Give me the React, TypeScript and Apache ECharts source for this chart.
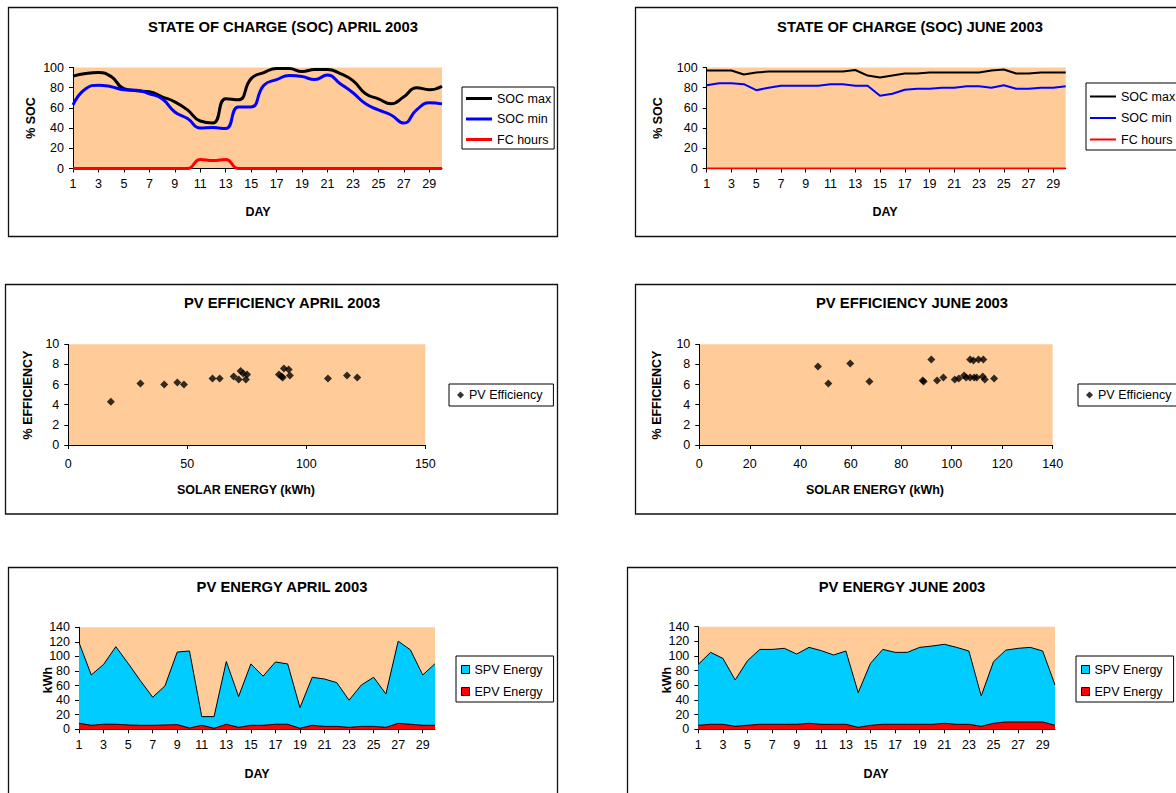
import { useEffect, useRef } from "react";
import * as echarts from "echarts";

const FONT = "'Liberation Sans', Arial, Helvetica, sans-serif";
const PLOT_BG = "#FFCC99";
const AXIS_COLOR = "#000";

// Day of month categories
const days = [
  "1", "2", "3", "4", "5", "6", "7", "8", "9", "10",
  "11", "12", "13", "14", "15", "16", "17", "18", "19", "20",
  "21", "22", "23", "24", "25", "26", "27", "28", "29", "30",
];

// State of charge, April 2003 (%)
const socMaxApril = [91.5, 94, 95, 91, 79, 77, 76, 71, 66, 58, 47, 45, 69, 68, 89, 95, 99, 99, 96, 98, 98, 94, 87, 74, 69, 64, 71, 80, 78, 81.5];
const socMinApril = [63, 79, 82.5, 81, 78, 77.5, 74, 69, 56, 49.5, 40, 40.5, 39.5, 61, 61, 82.5, 88, 92, 91, 88, 92.5, 84, 75, 64, 58, 53, 45, 58, 65, 64];
const fcHoursApril = [0, 0, 0, 0, 0, 0, 0, 0, 0, 0, 9, 8, 9, 0, 0, 0, 0, 0, 0, 0, 0, 0, 0, 0, 0, 0, 0, 0, 0, 0];

// State of charge, June 2003 (%)
const socMaxJune = [97, 97, 97, 93, 95, 96, 96, 96, 96, 96, 96, 96, 97.5, 92, 90, 92, 94, 94, 95, 95, 95, 95, 95, 97, 98, 94, 94, 95, 95, 95];
const socMinJune = [82.5, 84.5, 84.5, 83.5, 77.5, 80, 82, 82, 82, 82, 83.5, 83.5, 82, 82, 72, 74, 78, 79, 79, 80, 80, 81.5, 81.5, 80, 82.5, 79, 79, 80, 80, 81.5];
const fcHoursJune = [0, 0, 0, 0, 0, 0, 0, 0, 0, 0, 0, 0, 0, 0, 0, 0, 0, 0, 0, 0, 0, 0, 0, 0, 0, 0, 0, 0, 0, 0];

// PV efficiency (%) against daily solar energy (kWh)
const pvEffApril: [number, number][] = [
  [17.9, 4.3], [30.3, 6.1], [40.3, 6.0], [45.8, 6.2], [48.6, 6.0],
  [60.6, 6.6], [63.6, 6.6], [69.5, 6.8], [71.6, 6.5], [72.4, 7.35],
  [73.5, 7.1], [74.6, 6.5], [75.1, 7.0], [88.5, 7.0], [89.6, 6.8],
  [90.1, 6.7], [90.6, 7.6], [92.6, 7.5], [93.1, 6.9], [109.1, 6.6],
  [117.1, 6.9], [121.4, 6.7],
];
const pvEffJune: [number, number][] = [
  [47.0, 7.8], [51.1, 6.1], [59.8, 8.1], [67.4, 6.3], [88.5, 6.4],
  [88.9, 6.3], [91.9, 8.5], [94.2, 6.4], [96.7, 6.7], [101.2, 6.5],
  [102.8, 6.6], [104.9, 6.9], [105.7, 6.7], [107.3, 8.5], [108.6, 8.4],
  [107.3, 6.7], [108.9, 6.7], [109.9, 6.7], [110.6, 8.5], [112.5, 8.5],
  [112.3, 6.8], [113.1, 6.5], [116.8, 6.6],
];

// Daily PV energy (kWh)
const spvApril = [119, 74.6, 89, 113.4, 90.6, 66.8, 44, 59.5, 106, 107.5, 17.4, 17.4, 93, 45, 89.7, 73, 92.4, 89.7, 29.7, 71.4, 69, 64, 40, 60.8, 71.4, 48.5, 121, 109, 74.6, 90];
const epvApril = [8.2, 5.5, 6.9, 6.9, 6, 5.5, 5.5, 6, 6.4, 1.8, 5.5, 1.4, 6.9, 2.7, 5.5, 5.5, 6.9, 6.9, 1.4, 5.5, 4, 4, 2.7, 4, 4, 2.7, 8.2, 6.9, 5.5, 5.5];
const spvJune = [88.6, 105, 96.8, 67.3, 93.6, 109, 109, 110.5, 102.7, 111.8, 107.3, 101.4, 106.8, 50, 90, 109, 105, 105, 111.8, 113.6, 116, 111.8, 106.8, 45.5, 92.3, 108, 110.5, 111.8, 106.8, 60.5];
const epvJune = [5.5, 6.8, 6.8, 4.1, 5.5, 6.8, 6.8, 6.8, 6.8, 8.2, 6.8, 6.8, 6.8, 2.7, 5.5, 6.8, 6.8, 6.8, 6.8, 6.8, 8.2, 6.8, 6.8, 4.1, 8.2, 10, 10, 10, 10, 5.5];

const labelStyle = { fontSize: 12.5, color: "#000", fontFamily: FONT };

function grid(left: number, top: number, width: number, height: number) {
  return { left, top, width, height, show: true, backgroundColor: PLOT_BG, borderWidth: 0 };
}

function dayAxis(gridIndex: number) {
  return {
    gridIndex,
    type: "category",
    data: days,
    boundaryGap: false,
    axisLine: { lineStyle: { color: AXIS_COLOR, width: 1 } },
    axisTick: { show: true, interval: 1, length: 4, lineStyle: { color: AXIS_COLOR } },
    axisLabel: { ...labelStyle, interval: 1, margin: 9 },
    splitLine: { show: false },
  };
}

function valueAxis(gridIndex: number, max: number, interval: number, margin: number) {
  return {
    gridIndex,
    type: "value",
    min: 0,
    max,
    interval,
    axisLine: { show: true, lineStyle: { color: AXIS_COLOR, width: 1 } },
    axisTick: { show: true, length: 4, lineStyle: { color: AXIS_COLOR } },
    axisLabel: { ...labelStyle, margin },
    splitLine: { show: false },
  };
}

function lineSeries(name: string, data: number[], axis: number, color: string, width: number, smooth: number | boolean) {
  return {
    type: "line",
    name,
    data,
    xAxisIndex: axis,
    yAxisIndex: axis,
    smooth,
    symbol: "none",
    lineStyle: { color, width },
    itemStyle: { color },
  };
}

function areaSeries(name: string, data: number[], axis: number, color: string) {
  return {
    type: "line",
    name,
    data,
    xAxisIndex: axis,
    yAxisIndex: axis,
    symbol: "none",
    lineStyle: { color: "#000", width: 1 },
    areaStyle: { color, opacity: 1 },
    itemStyle: { color },
  };
}

function scatterSeries(data: [number, number][], axis: number) {
  return {
    type: "scatter",
    name: "PV Efficiency",
    data,
    xAxisIndex: axis,
    yAxisIndex: axis,
    symbol: "diamond",
    symbolSize: 8,
    itemStyle: { color: "#000" },
  };
}

function frame(x: number, y: number, width: number, height: number) {
  return {
    type: "rect",
    shape: { x, y, width, height },
    style: { fill: "none", stroke: "#111", lineWidth: 1.3 },
  };
}

function label(text: string, x: number, y: number, size: number, vertical = false) {
  return {
    type: "text",
    x,
    y,
    rotation: vertical ? Math.PI / 2 : 0,
    style: {
      text,
      fill: "#000",
      fontSize: size,
      fontWeight: "bold",
      fontFamily: FONT,
      align: "center",
      verticalAlign: "middle",
    },
  };
}

function legend(data: string[], left: number, top: number, extra: any) {
  return {
    data,
    orient: "vertical",
    left,
    top,
    backgroundColor: "#fff",
    borderColor: "#000",
    borderWidth: 1,
    borderRadius: 0,
    textStyle: { ...labelStyle },
    selectedMode: false,
    ...extra,
  };
}

export default function App() {
  const ref = useRef<HTMLDivElement>(null);

  useEffect(() => {
    if (!ref.current) return;
    const chart = echarts.init(ref.current, null, { renderer: "svg" });

    const socLegend = ["SOC max", "SOC min", "FC hours"];
    const energyLegend = ["SPV Energy", "EPV Energy"];

    chart.setOption({
      animation: false,
      grid: [
        grid(73, 67.5, 369, 101),
        grid(706.7, 67.5, 359, 101),
        grid(68.3, 344.3, 357, 100.7),
        grid(699.3, 344.3, 353.4, 100.7),
        grid(79, 627.3, 356, 102),
        grid(698.3, 626.7, 356.7, 102.6),
      ],
      xAxis: [
        dayAxis(0),
        dayAxis(1),
        { ...valueAxis(2, 150, 50, 12) },
        { ...valueAxis(3, 140, 20, 12) },
        dayAxis(4),
        dayAxis(5),
      ],
      yAxis: [
        valueAxis(0, 100, 20, 9),
        valueAxis(1, 100, 20, 9),
        valueAxis(2, 10, 2, 9),
        valueAxis(3, 10, 2, 9),
        valueAxis(4, 140, 20, 9),
        valueAxis(5, 140, 20, 9),
      ],
      legend: [
        legend(socLegend, 462, 87, {
          icon: "rect", itemWidth: 26, itemHeight: 3, itemGap: 7.5, padding: [5, 3, 3, 4],
          itemStyle: { borderWidth: 0 },
        }),
        legend(socLegend, 1086, 83, {
          icon: "rect", itemWidth: 26, itemHeight: 2, itemGap: 8.5, padding: [7, 5, 4, 4],
          itemStyle: { borderWidth: 0 },
        }),
        legend(["PV Efficiency"], 449, 384, {
          icon: "diamond", itemWidth: 7, itemHeight: 7, padding: [4.5, 11, 4.5, 8],
          itemStyle: { borderWidth: 0 },
        }),
        legend(["PV Efficiency"], 1078, 384, {
          icon: "diamond", itemWidth: 7, itemHeight: 7, padding: [4.5, 11, 4.5, 8],
          itemStyle: { borderWidth: 0 },
        }),
        legend(energyLegend, 456, 656, {
          icon: "rect", itemWidth: 8, itemHeight: 8, itemGap: 9, padding: [7, 11, 4, 5],
          itemStyle: { borderColor: "#000", borderWidth: 1 },
        }),
        legend(energyLegend, 1076, 656, {
          icon: "rect", itemWidth: 8, itemHeight: 8, itemGap: 9, padding: [7, 11, 4, 5],
          itemStyle: { borderColor: "#000", borderWidth: 1 },
        }),
      ],
      series: [
        lineSeries("SOC max", socMaxApril, 0, "#000", 3, 0.5),
        lineSeries("SOC min", socMinApril, 0, "#0000FF", 3, 0.5),
        lineSeries("FC hours", fcHoursApril, 0, "#FF0000", 3, 0.5),
        lineSeries("SOC max", socMaxJune, 1, "#000", 2, false),
        lineSeries("SOC min", socMinJune, 1, "#0000FF", 2, false),
        lineSeries("FC hours", fcHoursJune, 1, "#FF0000", 2, false),
        scatterSeries(pvEffApril, 2),
        scatterSeries(pvEffJune, 3),
        areaSeries("SPV Energy", spvApril, 4, "#00CCFF"),
        areaSeries("EPV Energy", epvApril, 4, "#FF0000"),
        areaSeries("SPV Energy", spvJune, 5, "#00CCFF"),
        areaSeries("EPV Energy", epvJune, 5, "#FF0000"),
      ],
      graphic: [
        frame(8.5, 7.5, 549, 229),
        frame(635.5, 7.5, 600, 229),
        frame(5.5, 284.5, 552, 229.5),
        frame(635.5, 284.5, 600, 229.5),
        frame(8.5, 567.5, 549, 300),
        frame(627.5, 567.5, 600, 300),
        label("STATE OF CHARGE (SOC) APRIL 2003", 283, 27, 14.8),
        label("STATE OF CHARGE (SOC) JUNE 2003", 910, 27, 14.8),
        label("PV EFFICIENCY APRIL 2003", 282, 303, 14.8),
        label("PV EFFICIENCY JUNE 2003", 912, 303, 14.8),
        label("PV ENERGY APRIL 2003", 282, 587, 14.8),
        label("PV ENERGY JUNE 2003", 902, 587, 14.8),
        label("% SOC", 31, 118, 12.5, true),
        label("% SOC", 658, 118, 12.5, true),
        label("% EFFICIENCY", 28, 395, 12.5, true),
        label("% EFFICIENCY", 657, 395, 12.5, true),
        label("kWh", 48, 680, 12.5, true),
        label("kWh", 667, 680, 12.5, true),
        label("DAY", 258, 212, 12.5),
        label("DAY", 885, 212, 12.5),
        label("SOLAR ENERGY (kWh)", 246, 490, 12.5),
        label("SOLAR ENERGY (kWh)", 875, 490, 12.5),
        label("DAY", 257, 774, 12.5),
        label("DAY", 876, 774, 12.5),
      ],
    });

    return () => chart.dispose();
  }, []);

  return (
    <div
      style={{
        position: "fixed",
        left: 0,
        top: 0,
        width: 1176,
        height: 793,
        overflow: "hidden",
        background: "#fff",
      }}
    >
      <div ref={ref} style={{ width: 1176, height: 793 }} />
    </div>
  );
}
